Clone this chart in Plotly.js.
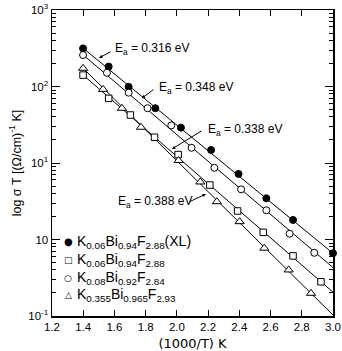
<!DOCTYPE html>
<html>
<head>
<meta charset="utf-8">
<script src="https://cdn.plot.ly/plotly-3.0.1.min.js"></script>
<style>html,body{margin:0;padding:0;background:#fff}#chart{width:342px;height:351px}</style>
</head>
<body>
<div id="chart"></div>
<script>
// ---- data ----
const xFilled = [1.399, 1.563, 1.691, 1.862, 2.026, 2.219, 2.395, 2.573, 2.744, 3.0];
const yFilled = [315, 182, 99, 52, 29, 14.8, 7.2, 3.46, 1.80, 0.66];
const xOpen = [1.399, 1.552, 1.691, 1.812, 1.964, 2.094, 2.240, 2.411, 2.573, 2.722, 2.880];
const yOpen = [258, 151, 83, 52, 31, 15.8, 8.65, 4.53, 2.41, 1.19, 0.67];
const xSquare = [1.399, 1.563, 1.702, 1.857, 2.008, 2.211, 2.389, 2.553, 2.744, 2.923];
const ySquare = [141, 70, 42.4, 21.7, 12.9, 5.15, 2.36, 1.24, 0.61, 0.28];
const xTri = [1.399, 1.527, 1.648, 1.770, 2.011, 2.150, 2.256, 2.402, 2.560, 2.716, 2.859];
const yTri = [173, 91.8, 51.9, 29.3, 10.8, 5.65, 3.12, 1.71, 0.77, 0.40, 0.198];

// fitted straight lines (end points)
const fitX = [1.40, 3.0];
const fitFilled = [316, 0.66];
const fitOpen = [258, 0.43];
const fitSquare = [141, 0.205];
const fitTri = [173, 0.103];

const seriesNames = [
  "K<sub>0.06</sub>Bi<sub>0.94</sub>F<sub>2.88</sub>(XL)",
  "K<sub>0.06</sub>Bi<sub>0.94</sub>F<sub>2.88</sub>",
  "K<sub>0.08</sub>Bi<sub>0.92</sub>F<sub>2.84</sub>",
  "K<sub>0.355</sub>Bi<sub>0.965</sub>F<sub>2.93</sub>"
];
const legendSymbols = ["\u25CF", "\u25A1", "\u25CB", "\u25B3"];
const energyLabels = ["0.316", "0.348", "0.338", "0.388"];

const yTickVals = [0.1, 1, 10, 100, 1000];
const yTickText = ["10<sup>-1</sup>", "10", "10<sup>1</sup>", "10<sup>2</sup>", "10<sup>3</sup>"];
const minorVals = [];
for (let e = -1; e <= 2; e++) for (let m = 2; m <= 9; m++) minorVals.push(m * Math.pow(10, e));

const F = "Liberation Sans, Arial, sans-serif";

function lineTrace(x, y) {
  return {x: x, y: y, mode: "lines", line: {color: "black", width: 1}, showlegend: false, hoverinfo: "skip"};
}
function markTrace(x, y, sym, fill, size, name) {
  return {x: x, y: y, mode: "markers", name: name, showlegend: false, cliponaxis: false,
    marker: {symbol: sym, size: size, color: fill, line: {color: "black", width: 1}}};
}

const data = [
  lineTrace(fitX, fitFilled),
  lineTrace(fitX, fitOpen),
  lineTrace(fitX, fitSquare),
  lineTrace(fitX, fitTri),
  markTrace(xFilled, yFilled, "circle", "black", 7, seriesNames[0]),
  markTrace(xSquare, ySquare, "square", "white", 6.5, seriesNames[1]),
  markTrace(xOpen, yOpen, "circle", "white", 7, seriesNames[2]),
  markTrace(xTri, yTri, "triangle-up", "white", 8, seriesNames[3])
];

// plot area geometry (pixels) for paper-coordinate annotations
const L = 52, T = 10, W = 281, H = 306;
const px = v => (v - L) / W;
const py = v => (T + H - v) / H;

const annotations = [];
// activation-energy labels
const eaText = [[113, 49], [157, 88], [206, 130], [116, 202]];
eaText.forEach((p, i) => {
  annotations.push({xref: "paper", yref: "paper", x: px(p[0]), y: py(p[1]), xanchor: "left", yanchor: "middle",
    text: "E<sub>a</sub> = " + energyLabels[i] + " eV", showarrow: false, font: {family: F, size: 12, color: "black"}});
});
// leader arrows: head position, tail offset
const arrows = [[99, 58, 13, -7], [141.7, 98.3, 13.3, -9.8], [172, 149, 31, -19], [206, 194, -17.7, 8.3]];
arrows.forEach(a => {
  annotations.push({xref: "paper", yref: "paper", x: px(a[0]), y: py(a[1]), ax: a[2], ay: a[3], text: "",
    showarrow: true, arrowhead: 2, arrowsize: 0.7, arrowwidth: 1, arrowcolor: "black", standoff: 0});
});
// legend
const rowY = [241.7, 260, 278.3, 295];
rowY.forEach((yy, i) => {
  annotations.push({xref: "paper", yref: "paper", x: px(68.3), y: py(yy), xanchor: "center", yanchor: "middle",
    text: legendSymbols[i], showarrow: false, font: {family: "DejaVu Sans", size: i === 0 ? 10 : 9, color: "black"}});
  annotations.push({xref: "paper", yref: "paper", x: px(75), y: py(yy), xanchor: "left", yanchor: "middle",
    text: seriesNames[i], showarrow: false, font: {family: F, size: 14, color: "black"}});
});

const layout = {
  width: 342, height: 351,
  margin: {l: L, r: 342 - L - W, t: T, b: 351 - T - H, pad: 0},
  paper_bgcolor: "white", plot_bgcolor: "white",
  showlegend: false,
  font: {family: F, color: "black"},
  xaxis: {
    range: [1.2, 3.0], tick0: 1.2, dtick: 0.2, tickformat: ".1f",
    ticks: "inside", ticklen: 6, tickwidth: 1, tickcolor: "black",
    showline: true, linewidth: 1.5, linecolor: "black", mirror: "ticks",
    showgrid: false, zeroline: false,
    tickfont: {family: F, size: 11.5, color: "black"},
    title: {text: "(1000/T) K", font: {family: "DejaVu Sans", size: 13, color: "black"}, standoff: 6}
  },
  yaxis: {
    type: "log", range: [-1, 3],
    tickmode: "array", tickvals: yTickVals, ticktext: yTickText,
    ticks: "inside", ticklen: 8, tickwidth: 1, tickcolor: "black",
    minor: {tickmode: "array", tickvals: minorVals, ticks: "inside", ticklen: 4, tickwidth: 1, tickcolor: "black", showgrid: false},
    showline: true, linewidth: 1.5, linecolor: "black", mirror: "ticks",
    showgrid: false, zeroline: false,
    tickfont: {family: F, size: 11.5, color: "black"},
    title: {text: "log \u03C3 T [(\u03A9/cm)<sup>-1</sup> K]", font: {family: F, size: 12.5, color: "black"}, standoff: 4}
  },
  annotations: annotations
};

Plotly.newPlot("chart", data, layout, {displayModeBar: false, staticPlot: true});
</script>
</body>
</html>
